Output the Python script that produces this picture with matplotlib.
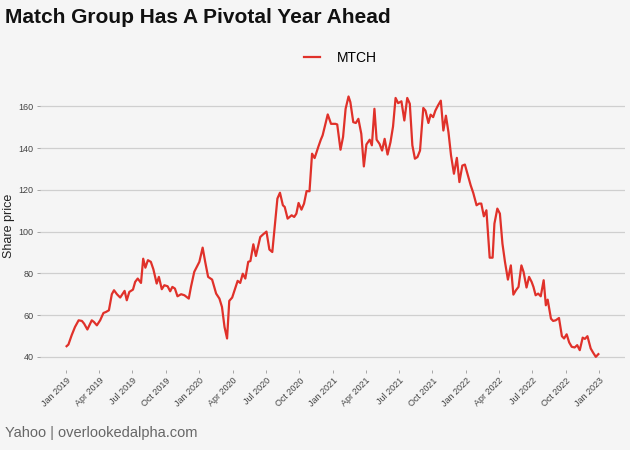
import pandas as pd
import matplotlib
matplotlib.use('Agg')
import matplotlib.pyplot as plt
import matplotlib.dates as mdates

plt.rcParams['font.family'] = ['Liberation Sans', 'DejaVu Sans']

# weekly-ish MTCH closes
dates = [
    '2019-01-02', '2019-01-07', '2019-01-16', '2019-01-25', '2019-02-04', '2019-02-13',
    '2019-02-19', '2019-02-28', '2019-03-12', '2019-03-18', '2019-03-26', '2019-04-04',
    '2019-04-13', '2019-04-20', '2019-04-28', '2019-05-06', '2019-05-12', '2019-05-20',
    '2019-05-29', '2019-06-10', '2019-06-16', '2019-06-23', '2019-07-03', '2019-07-09',
    '2019-07-16', '2019-07-25', '2019-07-31', '2019-08-06', '2019-08-13', '2019-08-21',
    '2019-08-28', '2019-09-06', '2019-09-12', '2019-09-20', '2019-09-27', '2019-10-06',
    '2019-10-13', '2019-10-19', '2019-10-26', '2019-11-02', '2019-11-12', '2019-11-21',
    '2019-12-03', '2019-12-09', '2019-12-18',
    '2020-01-01', '2020-01-10', '2020-01-17', '2020-01-25', '2020-02-05', '2020-02-16',
    '2020-02-25', '2020-03-03', '2020-03-10', '2020-03-17', '2020-03-23', '2020-03-31',
    '2020-04-15', '2020-04-22', '2020-04-29', '2020-05-06', '2020-05-14', '2020-05-20',
    '2020-05-28', '2020-06-04', '2020-06-16', '2020-06-24', '2020-07-03', '2020-07-11',
    '2020-07-19', '2020-08-02', '2020-08-09', '2020-08-17', '2020-08-22', '2020-08-30',
    '2020-09-10', '2020-09-17', '2020-09-23', '2020-09-29', '2020-10-07', '2020-10-14',
    '2020-10-21', '2020-10-29', '2020-11-05', '2020-11-12', '2020-11-22', '2020-11-29',
    '2020-12-04', '2020-12-18', '2020-12-27',
    '2021-01-08', '2021-01-13', '2021-01-22', '2021-01-29', '2021-02-05', '2021-02-13',
    '2021-02-18', '2021-02-26', '2021-03-05', '2021-03-12', '2021-03-20', '2021-03-27',
    '2021-04-03', '2021-04-12', '2021-04-18', '2021-04-25', '2021-05-01', '2021-05-09',
    '2021-05-16', '2021-05-23', '2021-05-31', '2021-06-08', '2021-06-15', '2021-06-22',
    '2021-06-29', '2021-07-08', '2021-07-16', '2021-07-24', '2021-07-31', '2021-08-07',
    '2021-08-14', '2021-08-21', '2021-08-28', '2021-09-06', '2021-09-12', '2021-09-20',
    '2021-09-26', '2021-10-03', '2021-10-09', '2021-10-16', '2021-10-24', '2021-10-31',
    '2021-11-07', '2021-11-14', '2021-11-21', '2021-11-29', '2021-12-07', '2021-12-14',
    '2021-12-22', '2021-12-29',
    '2022-01-08', '2022-01-14', '2022-01-21', '2022-01-30', '2022-02-06', '2022-02-12',
    '2022-02-19', '2022-02-26', '2022-03-07', '2022-03-15', '2022-03-20', '2022-03-28',
    '2022-04-04', '2022-04-11', '2022-04-18', '2022-04-26', '2022-05-04', '2022-05-11',
    '2022-05-18', '2022-05-25', '2022-06-02', '2022-06-08', '2022-06-16', '2022-06-23',
    '2022-06-30', '2022-07-05', '2022-07-11', '2022-07-18', '2022-07-25', '2022-08-02',
    '2022-08-08', '2022-08-13', '2022-08-22', '2022-08-28', '2022-09-04', '2022-09-13',
    '2022-09-21', '2022-09-27', '2022-10-04', '2022-10-11', '2022-10-18', '2022-10-26',
    '2022-11-02', '2022-11-09', '2022-11-17', '2022-11-23', '2022-11-30', '2022-12-09',
    '2022-12-16', '2022-12-23', '2022-12-30',
]
prices = [
    45.1, 45.9, 50.4, 54.3, 57.5, 57.2, 55.9, 53.1, 57.5, 56.7, 55.1, 57.5,
    61.0, 61.5, 62.3, 70.0, 71.9, 70.0, 68.4, 71.6, 67.1, 71.1, 72.2, 75.9,
    77.5, 75.4, 87.0, 82.7, 86.3, 85.5, 81.9, 75.1, 78.3, 72.4, 74.3, 73.8,
    71.4, 73.5, 72.7, 69.0, 70.0, 69.5, 67.9, 73.5, 80.7,
    85.5, 92.3, 85.5, 78.3, 77.0, 70.3, 67.9, 63.9, 54.3, 48.8, 66.8, 68.4,
    76.4, 75.4, 79.8, 77.5, 85.5, 85.9, 93.9, 88.3, 97.4, 98.7, 100.0, 91.4,
    90.2, 115.8, 118.6, 112.6, 111.8, 106.2, 107.8, 107.0, 108.6, 113.7, 110.5, 113.4,
    119.4, 119.3, 137.3, 135.2, 140.5, 144.0, 146.1, 156.1, 151.6,
    151.6, 151.3, 139.2, 145.3, 158.8, 164.7, 162.0, 152.4, 152.0, 154.0, 146.8, 131.2,
    141.7, 144.0, 141.3, 158.8, 144.0, 142.0, 138.8, 144.4, 136.9, 142.8, 150.3, 164.0,
    161.5, 162.4, 153.2, 164.0, 161.2, 141.3, 134.9, 135.7, 138.8, 159.2, 157.9, 152.0,
    156.0, 154.8, 157.9, 160.3, 162.7, 148.4, 155.5, 147.6, 136.5, 127.7, 135.3, 123.7,
    131.6, 132.1,
    125.8, 122.1, 118.5, 112.6, 113.4, 113.4, 107.3, 110.2, 87.5, 87.5, 103.8, 111.0,
    108.6, 94.2, 85.4, 77.0, 83.8, 69.8, 71.9, 73.5, 83.8, 80.6, 73.2, 78.3,
    75.9, 73.5, 69.5, 70.3, 69.0, 76.7, 64.7, 67.4, 58.3, 57.2, 57.5, 58.6,
    49.9, 48.8, 50.8, 46.9, 44.8, 44.5, 45.6, 43.2, 49.2, 48.6, 49.9, 44.0,
    41.9, 40.0, 41.3,
]

df = pd.DataFrame({'date': pd.to_datetime(dates), 'MTCH': prices})

bg = '#f5f5f5'
fig = plt.figure(figsize=(6.3, 4.5), dpi=100, facecolor=bg)
ax = fig.add_axes([0.0635, 0.178, 0.9285, 0.638], facecolor=bg)

ax.plot(df['date'], df['MTCH'], color='#e0312a', lw=1.6, label='MTCH')

ax.set_ylim(33.75, 171.25)
pad = (df['date'].max() - df['date'].min()) * 0.05
ax.set_xlim(df['date'].min() - pad, df['date'].max() + pad)
ax.set_yticks([40, 60, 80, 100, 120, 140, 160])
ax.xaxis.set_major_locator(mdates.MonthLocator(bymonth=[1, 4, 7, 10]))
ax.xaxis.set_major_formatter(mdates.DateFormatter('%b %Y'))

ax.grid(axis='y', color='#cfcfcf', lw=0.9)
ax.grid(axis='x', visible=False)
ax.set_axisbelow(True)
for s in ax.spines.values():
    s.set_visible(False)
ax.tick_params(axis='both', colors='#999999', length=2.5, width=0.6,
               labelsize=6.5, labelcolor='#444444', pad=2)
plt.setp(ax.get_xticklabels(), rotation=45, ha='right', rotation_mode='anchor')
ax.set_ylabel('Share price', fontsize=9, color='#222222')
ax.yaxis.set_label_coords(-0.043, 0.5)

fig.text(0.008, 0.962, 'Match Group Has A Pivotal Year Ahead', fontsize=15,
         fontweight='bold', color='#111111', va='center')
fig.legend(*ax.get_legend_handles_labels(), loc='center', bbox_to_anchor=(0.54, 0.871),
           frameon=False, fontsize=10, handlelength=1.2, handletextpad=1.2)
fig.text(0.008, 0.037, 'Yahoo | overlookedalpha.com', fontsize=10.5,
         color='#666666', va='center')

fig.savefig('out.png', dpi=100, facecolor=bg)
